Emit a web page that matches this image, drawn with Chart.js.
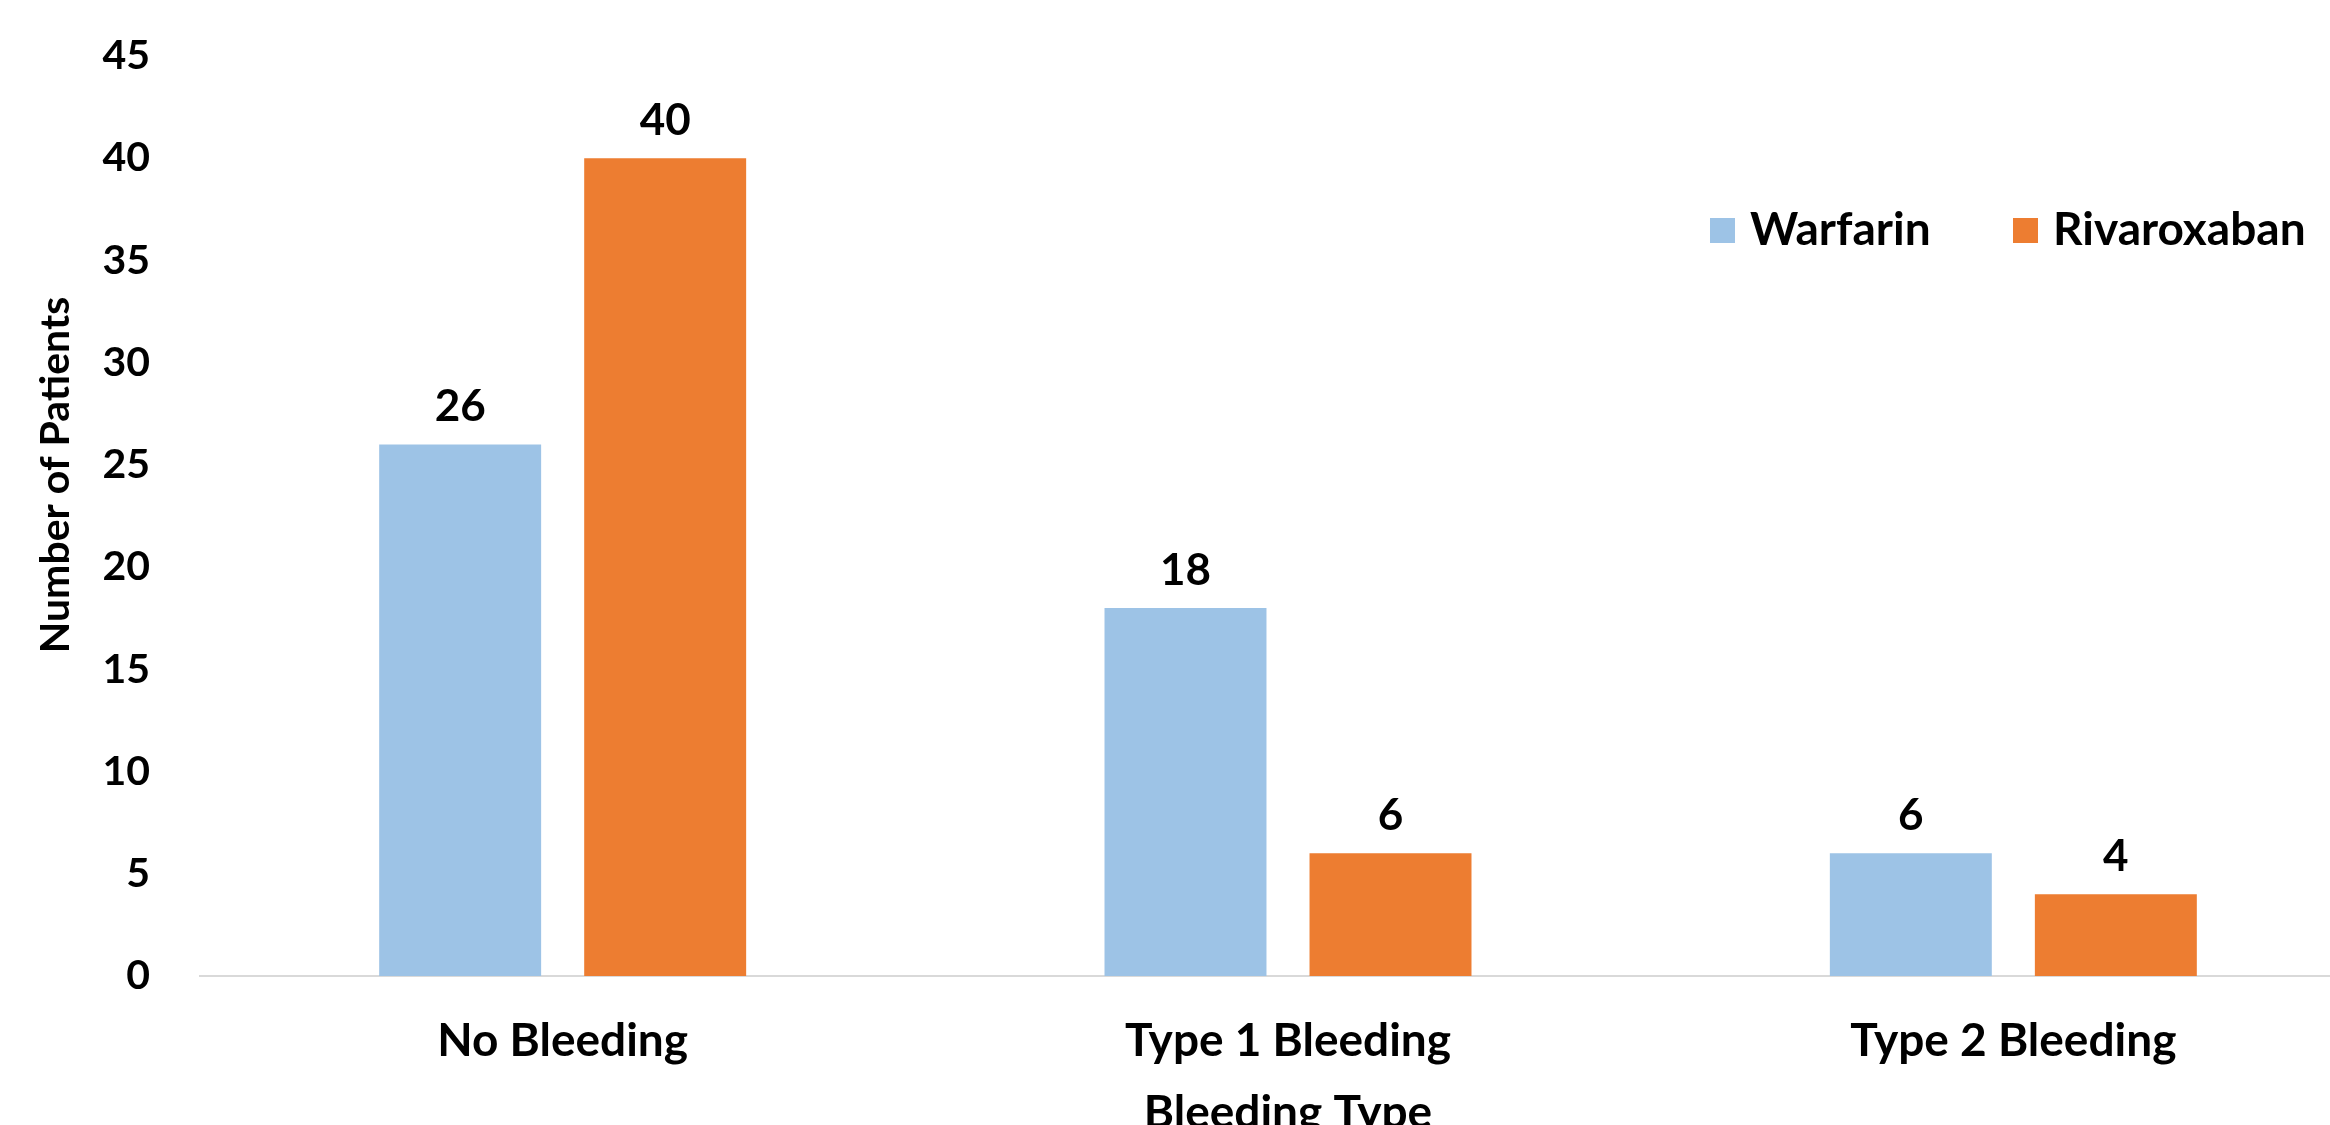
<!DOCTYPE html>
<html>
<head>
<meta charset="utf-8">
<script src="https://cdn.jsdelivr.net/npm/chart.js@4.4.1/dist/chart.umd.min.js"></script>
<style>
  html, body { margin: 0; padding: 0; background: #fff; }
  #wrap { width: 2330px; height: 1125px; overflow: hidden; position: relative; }
  canvas { display: block; }
</style>
</head>
<body>
<div id="wrap"><canvas id="chart" width="2400" height="1150"></canvas></div>
<script>
const categories = ['No Bleeding', 'Type 1 Bleeding', 'Type 2 Bleeding'];
const warfarin = [26, 18, 6];
const rivaroxaban = [40, 6, 4];
const seriesNames = ['Warfarin', 'Rivaroxaban'];
const seriesColors = ['#9DC3E6', '#ED7D31'];
const yMin = 0, yMax = 45, yStep = 5;
const xTitle = 'Bleeding Type';
const yTitle = 'Number of Patients';

const FONT = 'Lato';

// value labels above each bar
const barLabels = {
  id: 'barLabels',
  afterDatasetsDraw(chart) {
    const ctx = chart.ctx;
    ctx.save();
    ctx.font = 'bold 44px ' + FONT;
    ctx.fillStyle = '#000';
    ctx.textAlign = 'center';
    ctx.textBaseline = 'alphabetic';
    chart.data.datasets.forEach((ds, i) => {
      chart.getDatasetMeta(i).data.forEach((bar, j) => {
        ctx.fillText(String(ds.data[j]), bar.x, bar.y - 23);
      });
    });
    ctx.restore();
  }
};

// legend inside the plot + y title (off-centre like the original)
const extras = {
  id: 'extras',
  afterDraw(chart) {
    const ctx = chart.ctx;
    ctx.save();
    ctx.font = 'bold 46px ' + FONT;
    ctx.textBaseline = 'alphabetic';
    ctx.textAlign = 'left';
    const legendX = [1710, 2013];
    chart.data.datasets.forEach((ds, i) => {
      ctx.fillStyle = ds.backgroundColor;
      ctx.fillRect(legendX[i], 218, 25, 25);
      ctx.fillStyle = '#000';
      ctx.fillText(ds.label, legendX[i] + 40, 245);
    });

    ctx.font = 'bold 41px ' + FONT;
    ctx.translate(56, 475);
    ctx.rotate(-Math.PI / 2);
    ctx.textAlign = 'center';
    ctx.textBaseline = 'middle';
    ctx.fillText(yTitle, 0, 0);
    ctx.restore();
  }
};

function draw() {
  new Chart(document.getElementById('chart'), {
    type: 'bar',
    data: {
      labels: categories,
      datasets: [
        { label: seriesNames[0], data: warfarin, backgroundColor: seriesColors[0] },
        { label: seriesNames[1], data: rivaroxaban, backgroundColor: seriesColors[1] }
      ]
    },
    options: {
      responsive: false,
      animation: false,
      devicePixelRatio: 1,
      layout: { padding: { top: 56, right: 24, left: 0, bottom: 0 } },
      datasets: { bar: { categoryPercentage: 0.5653, barPercentage: 0.79 } },
      plugins: {
        legend: { display: false },
        tooltip: { enabled: false }
      },
      scales: {
        x: {
          grid: { display: false, drawTicks: false },
          border: { display: true, color: '#d9d9d9', width: 2 },
          ticks: { color: '#000', font: { family: FONT, size: 46, weight: 'bold' }, padding: 38, maxRotation: 0 },
          title: {
            display: true, text: xTitle, color: '#000',
            font: { family: FONT, size: 46, weight: 'bold' },
            padding: { top: 0, bottom: 9 }
          },
          afterFit: s => { s.height = 174; }
        },
        y: {
          min: yMin, max: yMax,
          grid: { display: false, drawTicks: false },
          border: { display: false },
          ticks: { stepSize: yStep, color: '#000', font: { family: FONT, size: 41, weight: 'bold' }, padding: 50 },
          // tick padding would otherwise push the plot top down
          afterFit: s => { s.width = 200; s.paddingTop = 0; s.paddingBottom = 0; }
        }
      }
    },
    plugins: [barLabels, extras]
  });
}

document.fonts.load('bold 46px ' + FONT).then(draw, draw);
</script>
</body>
</html>
